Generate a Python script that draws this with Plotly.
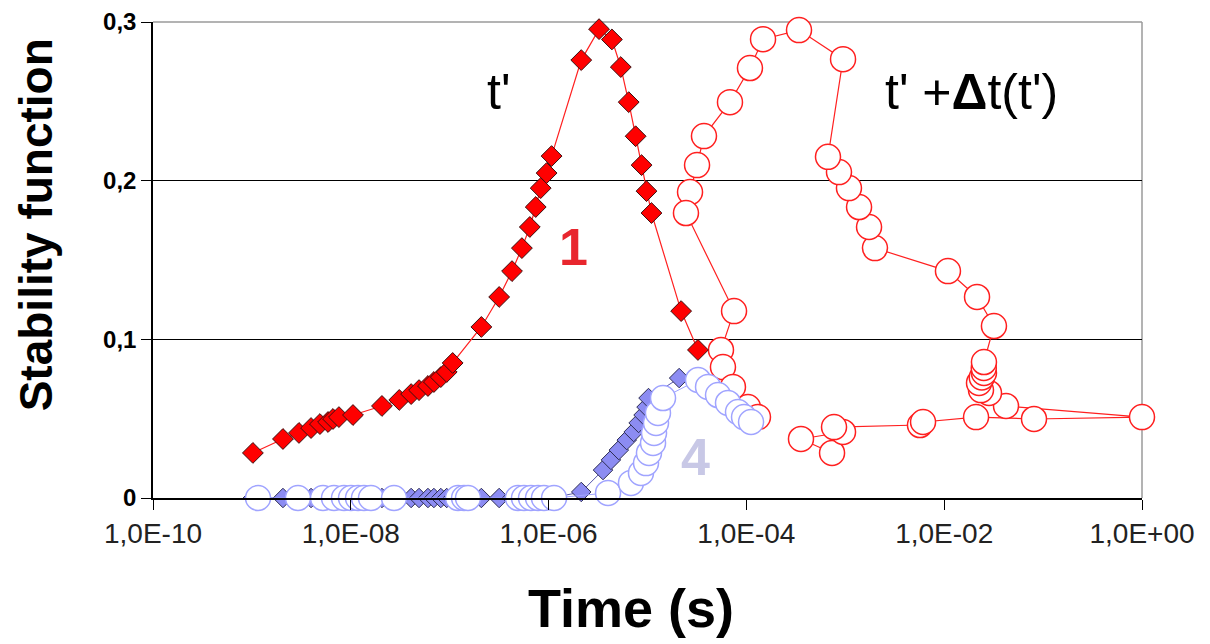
import plotly.graph_objects as go

# ---------------- data (log10 of time in s, stability function) ----------------
red_t_log = [-8.99, -8.686, -8.524, -8.402, -8.312, -8.23, -8.18, -8.12, -7.978,
             -7.685, -7.51, -7.39, -7.31, -7.22, -7.16, -7.09, -7.03, -6.97,
             -6.68, -6.50, -6.37, -6.27, -6.19, -6.13, -6.08, -6.02, -5.97,
             -5.67, -5.49, -5.36, -5.27, -5.19, -5.12, -5.06, -5.01, -4.96,
             -4.66, -4.49]
red_t_val = [0.0284, 0.0372, 0.0410, 0.0441, 0.0466, 0.0479, 0.0498, 0.0510, 0.0523,
             0.0580, 0.0618, 0.0655, 0.0680, 0.0706, 0.0731, 0.0762, 0.0794, 0.0851,
             0.1078, 0.1267, 0.1430, 0.1575, 0.1708, 0.1834, 0.1953, 0.2048, 0.2155,
             0.2760, 0.2955, 0.2890, 0.2716, 0.2495, 0.2280, 0.2098, 0.1934, 0.1796,
             0.1178, 0.0933]

red_dt_log = [-3.134, -3.448, -3.023, -3.114, -2.245, -2.214, -1.678, -1.092, 0.0,
              -1.375, -1.547, -1.628, -1.648, -1.62, -1.598, -1.60, -1.598, -1.497,
              -1.668, -1.962, -2.700, -2.760, -2.861, -2.963, -3.064, -3.175,
              -3.023, -3.468, -3.832, -3.964, -4.166, -4.429, -4.499, -4.570, -4.611,
              -4.125, -4.257, -4.237, -4.136, -3.984, -3.883]
red_dt_val = [0.0284, 0.0372, 0.0416, 0.0447, 0.0460, 0.0479, 0.0510, 0.0498, 0.0510,
              0.0580, 0.0662, 0.0680, 0.0725, 0.0760, 0.0788, 0.0820, 0.0857, 0.1084,
              0.1267, 0.1430, 0.1575, 0.1708, 0.1834, 0.1953, 0.2054, 0.2150,
              0.2766, 0.2949, 0.2892, 0.2710, 0.2495, 0.2281, 0.2098, 0.1928, 0.1796,
              0.1178, 0.0933, 0.0825, 0.0700, 0.0573, 0.0510]

blue_t_log = [-8.99, -8.686, -8.524, -8.402, -8.312, -8.23, -8.18, -8.12, -7.978,
              -7.685, -7.51, -7.39, -7.31, -7.22, -7.16, -7.09, -7.03, -6.97,
              -6.68, -6.50, -6.37, -6.27, -6.19, -6.13, -6.08, -6.02, -5.97,
              -5.67, -5.45, -5.37, -5.29, -5.21, -5.14, -5.09, -5.04, -5.01, -4.99,
              -4.68]
blue_t_val = [0.0] * 27 + [0.0038, 0.0176, 0.0240, 0.0302, 0.0365, 0.0416, 0.0473,
                           0.0523, 0.0573, 0.0630, 0.0756]

blue_dt_log = [-8.938, -8.534, -8.281, -8.170, -8.069, -7.998, -7.927, -7.867, -7.796,
               -7.563, -6.916, -6.855, -6.815, -6.31, -6.249, -6.178, -6.107, -6.047,
               -5.945, -5.399, -5.167, -5.066, -5.015, -4.985, -4.944, -4.934, -4.914,
               -4.894, -4.843, -4.489, -4.388, -4.287, -4.186, -4.085, -4.024, -3.953]
blue_dt_val = [0.0] * 19 + [0.0032, 0.0095, 0.0158, 0.0220, 0.0284, 0.0347, 0.0410,
                            0.0473, 0.0536, 0.0630, 0.0744, 0.0700, 0.0649, 0.0599,
                            0.0542, 0.0510, 0.0479]

x_tick_vals = [1e-10, 1e-8, 1e-6, 1e-4, 1e-2, 1e0]
x_tick_text = ["1,0E-10", "1,0E-08", "1,0E-06", "1,0E-04", "1,0E-02", "1,0E+00"]
y_tick_vals = [0, 0.1, 0.2, 0.3]
y_tick_text = ["0", "0,1", "0,2", "0,3"]


def tolin(v):
    return [10 ** a for a in v]


FONT = "Liberation Sans, Arial, sans-serif"

fig = go.Figure()

fig.add_trace(go.Scatter(
    x=tolin(red_dt_log), y=red_dt_val, mode="lines+markers",
    line=dict(color="#ff2020", width=1.2),
    marker=dict(symbol="circle", size=25, color="white",
                line=dict(color="#ff2020", width=1.5)),
    cliponaxis=False, showlegend=False))

fig.add_trace(go.Scatter(
    x=tolin(red_t_log), y=red_t_val, mode="lines+markers",
    line=dict(color="#ff2020", width=1.2),
    marker=dict(symbol="diamond", size=16, color="#ff0000",
                line=dict(color="#3a1010", width=1)),
    cliponaxis=False, showlegend=False))

fig.add_trace(go.Scatter(
    x=tolin(blue_t_log), y=blue_t_val, mode="lines+markers",
    line=dict(color="#5555aa", width=1),
    marker=dict(symbol="diamond", size=15, color="#8c8cf2",
                line=dict(color="#2e2e55", width=1)),
    cliponaxis=False, showlegend=False))

fig.add_trace(go.Scatter(
    x=tolin(blue_dt_log), y=blue_dt_val, mode="lines+markers",
    line=dict(color="#a0a4ff", width=1),
    marker=dict(symbol="circle", size=25, color="white",
                line=dict(color="#a0a4ff", width=1.5)),
    cliponaxis=False, showlegend=False))

annotations = [
    dict(x=-6.51, y=0.256, xref="x", yref="y", text="t'", showarrow=False,
         font=dict(family=FONT, size=50, color="black")),
    dict(x=-1.72, y=0.256, xref="x", yref="y", text="t' +<b>Δ</b>t(t')", showarrow=False,
         font=dict(family=FONT, size=50, color="black")),
    dict(x=-5.753, y=0.158, xref="x", yref="y", text="<b>1</b>", showarrow=False,
         font=dict(family=FONT, size=52, color="#e8262e")),
    dict(x=-4.51, y=0.026, xref="x", yref="y", text="<b>4</b>", showarrow=False,
         font=dict(family=FONT, size=52, color="#c8c8e6")),
    dict(x=-0.118, y=0.5735, xref="paper", yref="paper", text="<b>Stability function</b>",
         textangle=-90, showarrow=False, xanchor="center", yanchor="middle",
         font=dict(family=FONT, size=46, color="black")),
    dict(x=0.483, y=-0.231, xref="paper", yref="paper", text="<b>Time (s)</b>",
         showarrow=False, xanchor="center", yanchor="middle",
         font=dict(family=FONT, size=54, color="black")),
]

shapes = [
    dict(type="line", xref="paper", yref="paper", x0=0, x1=1, y0=1, y1=1,
         line=dict(color="#9a9a9a", width=1.5), layer="between"),
    dict(type="line", xref="paper", yref="paper", x0=1, x1=1, y0=0, y1=1,
         line=dict(color="#9a9a9a", width=1.5), layer="between"),
]

# page body has a default 8px margin, so the margins are reduced by 8px
fig.update_layout(
    width=1210, height=644,
    margin=dict(l=145, r=76, t=14, b=154, autoexpand=False),
    paper_bgcolor="white", plot_bgcolor="white",
    annotations=annotations, shapes=shapes,
    xaxis=dict(type="log", range=[-10, 0], tickvals=x_tick_vals, ticktext=x_tick_text,
               showgrid=False, zeroline=False, showline=True, linecolor="black",
               linewidth=1.5, ticks="outside", ticklen=10, tickcolor="black",
               automargin=False,
               tickfont=dict(family=FONT, size=28, color="#222222")),
    yaxis=dict(range=[0, 0.3], tickvals=y_tick_vals, ticktext=y_tick_text,
               showgrid=True, gridcolor="black", gridwidth=1.3, zeroline=False,
               showline=True, linecolor="black", linewidth=1.5, ticks="outside",
               ticklen=10, tickcolor="black", automargin=False,
               tickfont=dict(family=FONT, size=24, color="black", weight="bold")),
)

fig.write_html("out.html")
